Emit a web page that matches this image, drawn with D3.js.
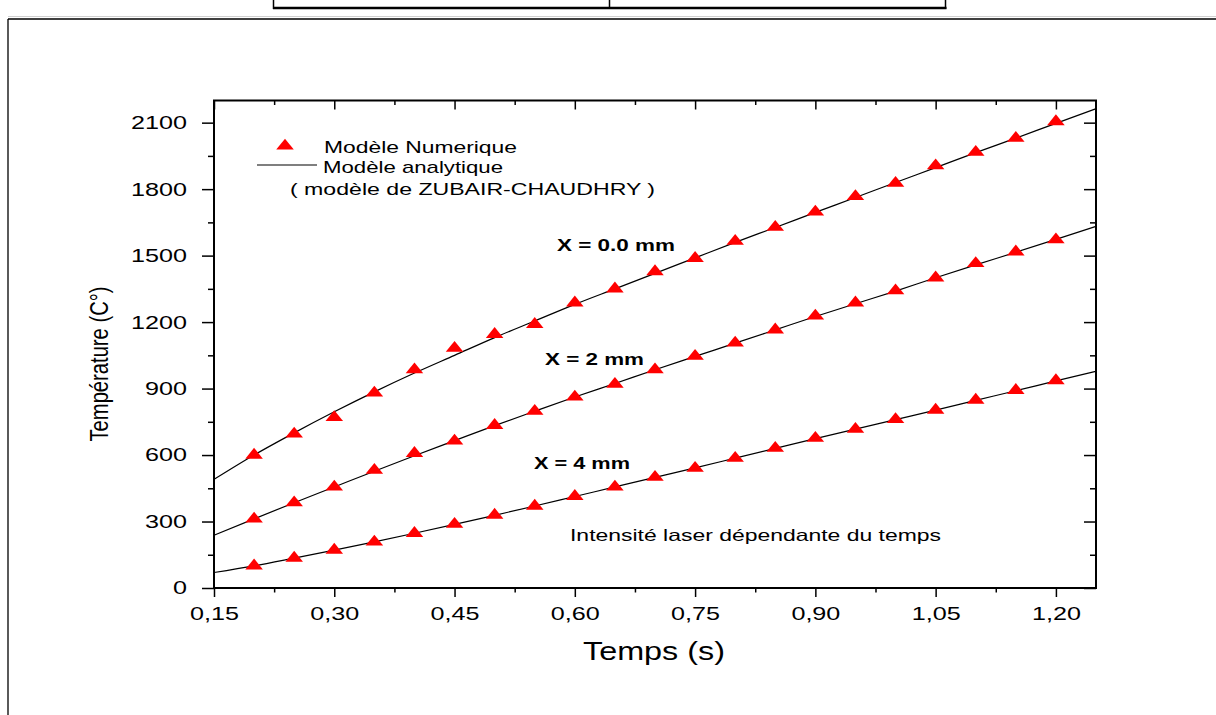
<!DOCTYPE html>
<html>
<head>
<meta charset="utf-8">
<script src="https://cdn.jsdelivr.net/npm/d3@7"></script>
<style>
    body { margin: 0; background: #fff; }
    svg { display: block; font-family: Arial, "Liberation Sans", sans-serif; }
</style>
</head>
<body>
<svg id="drawing_region"></svg>
<script>
// numerical model points (triangles)
const times  = [0.20, 0.25, 0.30, 0.35, 0.40, 0.45, 0.50, 0.55, 0.60, 0.65, 0.70,
                0.75, 0.80, 0.85, 0.90, 0.95, 1.00, 1.05, 1.10, 1.15, 1.20];
const num_x0 = [600, 695, 770, 880, 985, 1082, 1145, 1190, 1287, 1350, 1428,
                1488, 1565, 1628, 1697, 1767, 1827, 1906, 1967, 2030, 2105];
const num_x2 = [312, 385, 456, 532, 608, 664, 734, 798, 862, 920, 985,
                1046, 1106, 1165, 1228, 1287, 1342, 1400, 1465, 1517, 1572];
const num_x4 = [100, 135, 171, 208, 247, 288, 329, 370, 414, 456, 500,
                541, 586, 631, 676, 717, 761, 803, 848, 892, 936];

// analytical model (ZUBAIR-CHAUDHRY)
const curve_times = [0.15, 0.20, 0.25, 0.30, 0.35, 0.40, 0.45, 0.50, 0.55, 0.60, 0.65, 0.70,
                     0.75, 0.80, 0.85, 0.90, 0.95, 1.00, 1.05, 1.10, 1.15, 1.20, 1.25];
const ana_x0 = [490, 600, 700, 795, 885, 970, 1050, 1130, 1205, 1280, 1350, 1420,
                1490, 1560, 1627, 1695, 1762, 1830, 1897, 1965, 2030, 2097, 2163];
const ana_x2 = [238, 312, 385, 456, 527, 597, 665, 733, 798, 862, 923, 985,
                1045, 1105, 1165, 1225, 1283, 1340, 1400, 1458, 1515, 1573, 1632];
const ana_x4 = [70, 100, 135, 171, 208, 247, 287, 328, 370, 413, 456, 499,
                542, 586, 630, 674, 717, 760, 803, 847, 890, 935, 978];

const x_ticks = [0.15, 0.30, 0.45, 0.60, 0.75, 0.90, 1.05, 1.20];
const x_tick_labels = ["0,15", "0,30", "0,45", "0,60", "0,75", "0,90", "1,05", "1,20"];
const x_minor = [0.225, 0.375, 0.525, 0.675, 0.825, 0.975, 1.125];
const y_ticks = [0, 300, 600, 900, 1200, 1500, 1800, 2100];
const y_tick_labels = ["0", "300", "600", "900", "1200", "1500", "1800", "2100"];
const y_minor = [150, 450, 750, 1050, 1350, 1650, 1950];

const series_names = ["X = 0.0 mm", "X = 2 mm", "X = 4 mm"];

class TempChart {

    constructor( config ) {
        this.config = config;
        this.init();
    }

    init() {
        let self = this;
        const c = self.config;

        self.svg = d3.select( c.parent )
            .attr('width', c.width)
            .attr('height', c.height);

        self.svg.append('rect')
            .attr('width', c.width).attr('height', c.height)
            .attr('fill', '#fff');

        self.xscale = d3.scaleLinear()
            .domain([0.15, 1.25])
            .range([c.left, c.right]);

        self.yscale = d3.scaleLinear()
            .domain([0, 2200])
            .range([c.bottom, c.top]);
    }

    // stretched text, the source picture is wider than tall
    label( str, x, y, size, len, weight, anchor ) {
        return this.svg.append('text')
            .attr('x', x).attr('y', y)
            .attr('font-size', size)
            .attr('font-weight', weight || 'normal')
            .attr('text-anchor', anchor || 'start')
            .attr('textLength', len)
            .attr('lengthAdjust', 'spacingAndGlyphs')
            .attr('fill', '#000')
            .text(str);
    }

    page() {
        let self = this;
        const g = self.svg.append('g').attr('stroke', '#000').attr('fill', 'none');
        // bit of the table above
        g.append('line').attr('x1', 273.5).attr('x2', 273.5).attr('y1', 0).attr('y2', 9).attr('stroke-width', 1.5);
        g.append('line').attr('x1', 609.5).attr('x2', 609.5).attr('y1', 0).attr('y2', 9).attr('stroke-width', 1.5);
        g.append('line').attr('x1', 945.5).attr('x2', 945.5).attr('y1', 0).attr('y2', 9).attr('stroke-width', 1.5);
        g.append('line').attr('x1', 273).attr('x2', 946.5).attr('y1', 8).attr('y2', 8).attr('stroke-width', 2.5);
        // frame of the figure cell
        g.append('line').attr('x1', 8).attr('x2', 1216).attr('y1', 16.5).attr('y2', 16.5)
            .attr('stroke', '#d0d0d0').attr('stroke-width', 1);
        g.append('line').attr('x1', 8).attr('x2', 1216).attr('y1', 19).attr('y2', 19).attr('stroke-width', 1.3);
        g.append('line').attr('x1', 8).attr('x2', 8).attr('y1', 19).attr('y2', 715).attr('stroke-width', 1.3);
    }

    axes() {
        let self = this;
        const c = self.config;
        const K = 1.36;

        const style = sel => {
            sel.select('.domain').remove();
            sel.selectAll('line').attr('stroke', '#000').attr('stroke-width', 1.5);
            sel.attr('font-family', null).attr('font-size', 18.5);
        };

        // bottom
        self.svg.append('g')
            .attr('transform', `translate(0, ${c.bottom})`)
            .call( d3.axisBottom(self.xscale).tickValues(x_ticks)
                .tickFormat((d, i) => x_tick_labels[i]).tickSize(9).tickPadding(10) )
            .call(style)
            .selectAll('text').attr('fill', '#000')
            .attr('transform', `scale(${K},1)`);
        self.svg.append('g')
            .attr('transform', `translate(0, ${c.bottom})`)
            .call( d3.axisBottom(self.xscale).tickValues(x_minor).tickFormat('').tickSize(4.5) )
            .call(style);

        // top, inward
        self.svg.append('g')
            .attr('transform', `translate(0, ${c.top})`)
            .call( d3.axisTop(self.xscale).tickValues(x_ticks).tickFormat('').tickSize(-9) )
            .call(style);
        self.svg.append('g')
            .attr('transform', `translate(0, ${c.top})`)
            .call( d3.axisTop(self.xscale).tickValues(x_minor).tickFormat('').tickSize(-4.5) )
            .call(style);

        // left
        self.svg.append('g')
            .attr('transform', `translate(${c.left}, 0)`)
            .call( d3.axisLeft(self.yscale).tickValues(y_ticks)
                .tickFormat((d, i) => y_tick_labels[i]).tickSize(12).tickPadding(15) )
            .call(style)
            .selectAll('text').attr('fill', '#000')
            .attr('x', -27 / K)
            .attr('transform', `scale(${K},1)`);
        self.svg.append('g')
            .attr('transform', `translate(${c.left}, 0)`)
            .call( d3.axisLeft(self.yscale).tickValues(y_minor).tickFormat('').tickSize(6) )
            .call(style);

        // right, inward
        self.svg.append('g')
            .attr('transform', `translate(${c.right}, 0)`)
            .call( d3.axisRight(self.yscale).tickValues(y_ticks).tickFormat('').tickSize(-12) )
            .call(style);
        self.svg.append('g')
            .attr('transform', `translate(${c.right}, 0)`)
            .call( d3.axisRight(self.yscale).tickValues(y_minor).tickFormat('').tickSize(-6) )
            .call(style);

        // frame
        self.svg.append('rect')
            .attr('x', c.left).attr('y', c.top)
            .attr('width', c.right - c.left).attr('height', c.bottom - c.top)
            .attr('fill', 'none').attr('stroke', '#000').attr('stroke-width', 2);

        // titles
        self.label('Temps (s)', 654, 660, 25, 142, 'normal', 'middle');
        self.svg.append('text')
            .attr('transform', `translate(108, 364) scale(1.3,1) rotate(-90)`)
            .attr('text-anchor', 'middle')
            .attr('font-size', 20.5)
            .attr('textLength', 155)
            .attr('lengthAdjust', 'spacingAndGlyphs')
            .text('Température (C°)');
    }

    render() {
        let self = this;

        const line = d3.line()
            .x( d => self.xscale(d[0]) )
            .y( d => self.yscale(d[1]) )
            .curve( d3.curveMonotoneX );

        [ana_x0, ana_x2, ana_x4].forEach( vals => {
            self.svg.append('path')
                .attr('d', line( curve_times.map((t, i) => [t, vals[i]]) ))
                .attr('fill', 'none')
                .attr('stroke', '#000')
                .attr('stroke-width', 1.2);
        });

        const tri = d3.symbol( d3.symbolTriangle, 68 );
        [num_x0, num_x2, num_x4].forEach( vals => {
            self.svg.append('g').selectAll('path')
                .data( times.map((t, i) => [t, vals[i]]) )
                .join('path')
                .attr('d', tri)
                .attr('transform', d => `translate(${self.xscale(d[0])}, ${self.yscale(d[1])}) scale(1.4,1)`)
                .attr('fill', '#ff0000');
        });

        // curve names
        self.label(series_names[0], 557, 251, 16.5, 118, 'bold');
        self.label(series_names[1], 545, 365, 16.5, 99, 'bold');
        self.label(series_names[2], 534, 469, 16.5, 96, 'bold');

        self.label('Intensité laser dépendante du temps', 570, 541, 16.5, 371);

        // legend
        self.svg.append('path')
            .attr('d', tri)
            .attr('transform', 'translate(285, 146) scale(1.4,1)')
            .attr('fill', '#ff0000');
        self.svg.append('line')
            .attr('x1', 257).attr('x2', 317).attr('y1', 165).attr('y2', 165)
            .attr('stroke', '#000').attr('stroke-width', 1.2);
        self.label('Modèle Numerique', 324, 153, 17, 193);
        self.label('Modèle analytique', 323, 173, 17, 180);
        self.label('( modèle de ZUBAIR-CHAUDHRY )', 290, 195, 17, 365);
    }
}

const chart = new TempChart({
    parent: '#drawing_region',
    width: 1216,
    height: 715,
    left: 214, right: 1096, top: 100.5, bottom: 588
});
chart.page();
chart.axes();
chart.render();
</script>
</body>
</html>
